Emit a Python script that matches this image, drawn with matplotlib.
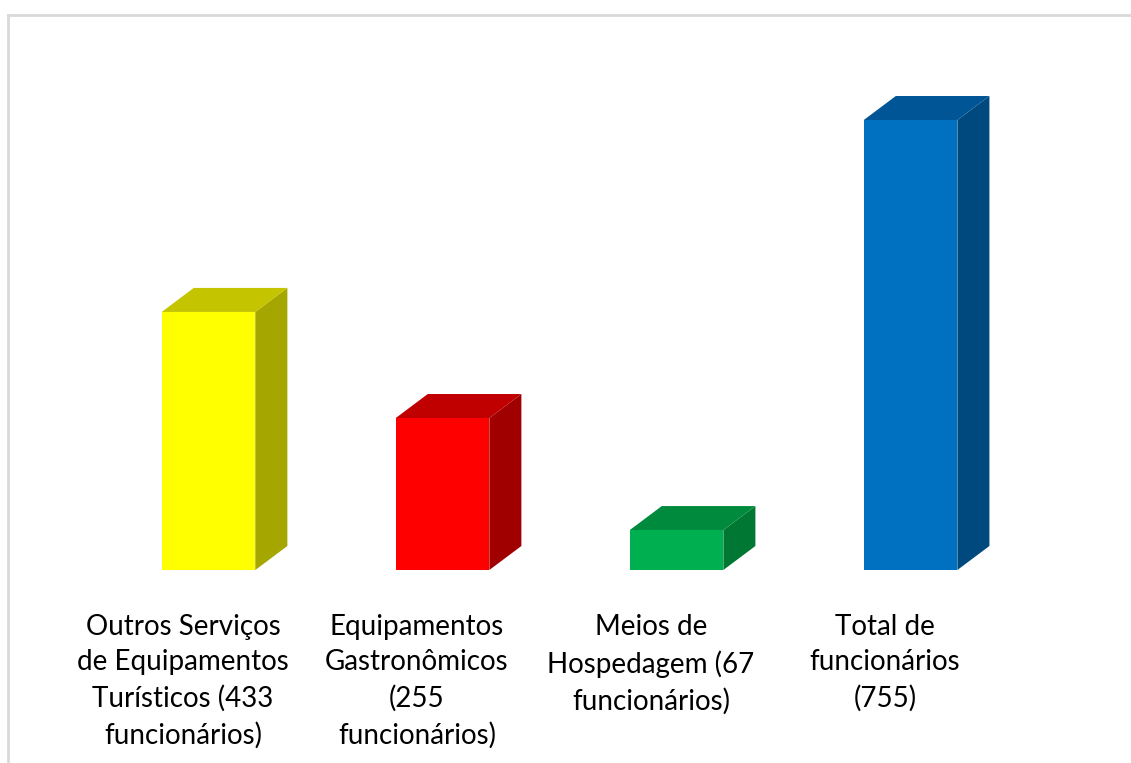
import matplotlib.pyplot as plt
from matplotlib.patches import Polygon, Rectangle
from matplotlib.lines import Line2D

labels = [
    "Outros Serviços\nde Equipamentos\nTurísticos (433\nfuncionários)",
    "Equipamentos\nGastronômicos\n(255\nfuncionários)",
    "Meios de\nHospedagem (67\nfuncionários)",
    "Total de\nfuncionários\n(755)",
]
values = [433, 255, 67, 755]
front_colors = ["#FFFF00", "#FF0000", "#00B050", "#0070C0"]
top_colors = ["#C4C400", "#C00000", "#008A3E", "#005596"]
side_colors = ["#A6A600", "#A00000", "#007732", "#00497F"]

plt.rcParams["font.family"] = ["Lato", "DejaVu Sans"]

fig = plt.figure(figsize=(11.31, 7.63), dpi=100)
ax = fig.add_axes([0, 0, 1, 1])
ax.set_xlim(-0.782, 4.051)
ax.set_ylim(-323.8, 956.4)
ax.axis("off")

shift = 0.109   # front face offset from category centre
width = 0.40
dx = 0.137      # depth in x (category units)
dy = 40.3       # depth in y (value units)

for i, (v, fc, tc, sc) in enumerate(zip(values, front_colors, top_colors, side_colors)):
    x0 = i + shift - width / 2
    x1 = x0 + width
    ax.add_patch(Polygon([(x1, 0), (x1 + dx, dy), (x1 + dx, v + dy), (x1, v)],
                         closed=True, facecolor=sc, edgecolor="none"))
    ax.add_patch(Polygon([(x0, v), (x1, v), (x1 + dx, v + dy), (x0 + dx, v + dy)],
                         closed=True, facecolor=tc, edgecolor="none"))
    ax.add_patch(Rectangle((x0, 0), width, v, facecolor=fc, edgecolor="none"))
    ax.text(i, -73, labels[i], ha="center", va="top", fontsize=20,
            linespacing=1.46, color="#000000")

# chart area border (top and left visible)
fig.add_artist(Line2D([8 / 1131, 8 / 1131], [0, 1 - 15 / 763], transform=fig.transFigure,
                      color="#d9d9d9", lw=2))
fig.add_artist(Line2D([8 / 1131, 1], [1 - 15 / 763, 1 - 15 / 763], transform=fig.transFigure,
                      color="#d9d9d9", lw=2))

fig.savefig("out.png", dpi=100, facecolor="white")
